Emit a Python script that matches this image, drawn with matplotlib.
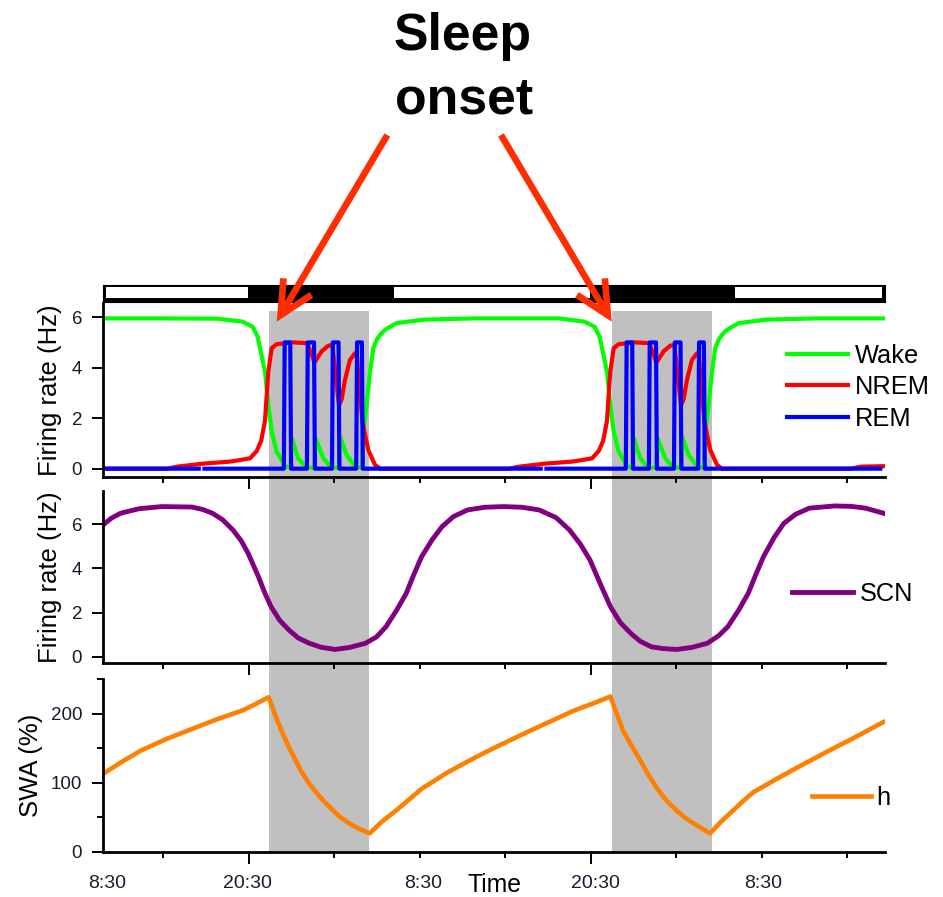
import numpy as np
import matplotlib
matplotlib.use("Agg")
import matplotlib.pyplot as plt
from matplotlib.patches import Rectangle, FancyArrowPatch
from matplotlib.transforms import blended_transform_factory

plt.rcParams['font.family'] = ['Liberation Sans', 'DejaVu Sans']

# time in hours from the left edge of the record
T_END = 54.88

# light / dark schedule and sleep bouts
light_periods = [(0.2, 10.18), (20.42, 34.18), (44.35, 54.64)]
sleep_bouts = [(11.65, 18.7), (35.7, 42.75)]

# state firing rates (Hz)
wake_t = [0.0, 4.0, 8.0, 9.8, 10.5, 10.85, 11.1, 11.37, 11.6, 11.84, 12.19, 12.65, 12.75, 13.17,
          13.25, 13.7, 14.18, 14.34, 14.84, 14.92, 15.46, 15.93, 16.1, 16.56, 16.64, 17.1, 17.68,
          17.8, 18.2, 18.27, 18.5, 18.74, 18.97, 19.2, 19.44, 19.8, 20.6, 22.5, 26.0,
          32.0, 33.8, 34.5, 34.85, 35.1, 35.37, 35.6, 35.84, 36.19, 36.65, 36.75, 37.17,
          37.25, 37.7, 38.18, 38.34, 38.84, 38.92, 39.46, 39.93, 40.1, 40.56, 40.64, 41.1, 41.68,
          41.8, 42.2, 42.27, 42.5, 42.74, 42.97, 43.2, 43.44, 43.8, 44.6, 46.5, 50.0, 54.88]
wake_v = [5.95, 5.95, 5.94, 5.82, 5.62, 5.23, 4.57, 3.84, 2.52, 1.47, 0.67, 0.23, 0.1, 0.03,
          1.2, 0.41, 0.1, 0.05, 0.03, 1.2, 0.41, 0.1, 0.05, 0.03, 1.27, 0.54, 0.1,
          0.05, 0.05, 1.47, 2.52, 3.84, 4.77, 5.1, 5.3, 5.5, 5.76, 5.9, 5.95,
          5.95, 5.82, 5.62, 5.23, 4.57, 3.84, 2.52, 1.47, 0.67, 0.23, 0.1, 0.03,
          1.2, 0.41, 0.1, 0.05, 0.03, 1.2, 0.41, 0.1, 0.05, 0.03, 1.27, 0.54, 0.1,
          0.05, 0.05, 1.47, 2.52, 3.84, 4.77, 5.1, 5.3, 5.5, 5.76, 5.9, 5.95, 5.95]

nrem_t = [0.0, 4.5, 5.2, 7.04, 8.91, 9.61, 10.32, 10.79, 11.1, 11.37, 11.6, 11.84, 12.19, 13.35,
          14.34, 14.84, 15.35, 15.81, 16.1, 16.56, 16.75, 16.98, 17.33, 17.68, 17.8, 18.2, 18.3,
          18.62, 19.09, 19.44,
          28.5, 29.2, 31.04, 32.91, 33.61, 34.32, 34.79, 35.1, 35.37, 35.6, 35.84, 36.19, 37.35,
          38.34, 38.84, 39.35, 39.81, 40.1, 40.56, 40.75, 40.98, 41.33, 41.68, 41.8, 42.2, 42.3,
          42.62, 43.09, 43.44, 52.5, 53.2, 54.88]
nrem_v = [0.0, 0.0, 0.08, 0.2, 0.28, 0.34, 0.41, 0.7, 1.1, 1.9, 3.84, 4.77, 4.93, 5.0,
          4.97, 4.2, 4.65, 4.87, 4.9, 2.5, 2.75, 3.51, 4.3, 4.57, 4.6, 1.9, 1.6,
          0.74, 0.15, 0.0,
          0.0, 0.08, 0.2, 0.28, 0.34, 0.41, 0.7, 1.1, 1.9, 3.84, 4.77, 4.93, 5.0,
          4.97, 4.2, 4.65, 4.87, 4.9, 2.5, 2.75, 3.51, 4.3, 4.57, 4.6, 1.9, 1.6,
          0.74, 0.15, 0.0, 0.0, 0.08, 0.1]

rem_t = [0.0, 6.72, 6.9, 7.12, 12.69, 12.75, 13.14, 13.2, 14.31, 14.37, 14.81, 14.87, 16.07, 16.13,
         16.53, 16.59, 17.77, 17.83, 18.17, 18.23, 30.72, 30.9, 31.12, 36.69, 36.75, 37.14, 37.2,
         38.31, 38.37, 38.81, 38.87, 40.07, 40.13, 40.53, 40.59, 41.77, 41.83, 42.17, 42.23, 54.55]
rem_v = [0, 0, np.nan, 0, 0, 5, 5, 0, 0, 5, 5, 0, 0, 5, 5, 0, 0, 5, 5, 0,
         0, np.nan, 0, 0, 5, 5, 0, 0, 5, 5, 0, 0, 5, 5, 0, 0, 5, 5, 0, 0]

# SCN firing rate (Hz)
scn_t = [0.0, 0.6, 1.24, 2.5, 4.1, 6.25, 7.0, 7.68, 8.4, 9.12, 9.7, 10.19, 10.91, 11.35, 11.79,
         12.4, 13.05, 13.7, 14.48, 15.3, 16.28, 17.3, 18.42, 19.2, 19.86, 20.6, 21.28, 21.8,
         22.36, 23.1, 23.79, 24.6, 25.59, 26.8, 28.09, 29.4, 30.6, 31.8, 32.74, 33.5, 34.18,
         34.9, 35.61, 36.3, 37.04, 37.7, 38.48, 39.3, 40.26, 41.3, 42.41, 43.2, 43.85, 44.6,
         45.28, 45.8, 46.35, 47.1, 47.78, 48.6, 49.57, 51.37, 52.5, 53.51, 54.77]
scn_v = [5.97, 6.28, 6.5, 6.7, 6.8, 6.78, 6.67, 6.5, 6.2, 5.74, 5.25, 4.68, 3.62, 2.9, 2.27,
         1.65, 1.21, 0.85, 0.61, 0.43, 0.33, 0.42, 0.61, 0.9, 1.36, 2.1, 2.87, 3.7,
         4.53, 5.3, 5.89, 6.35, 6.65, 6.77, 6.8, 6.77, 6.65, 6.3, 5.74, 5.1, 4.38,
         3.3, 2.27, 1.55, 1.06, 0.7, 0.45, 0.37, 0.33, 0.42, 0.61, 0.95, 1.36, 2.1,
         2.87, 3.7, 4.53, 5.4, 6.04, 6.45, 6.73, 6.83, 6.81, 6.73, 6.5]

# homeostatic drive h, as SWA (%)
h_t = [0.0, 1.3, 2.67, 4.4, 6.25, 8.0, 9.82, 10.7, 11.62,
       12.05, 12.51, 12.95, 13.4, 13.9, 14.48, 15.2, 15.92, 16.6, 17.35, 18.0, 18.71,
       19.6, 20.56, 21.5, 22.36, 24.1, 25.94, 27.7, 29.52, 31.3, 33.1, 34.4, 35.61,
       36.0, 36.49, 37.0, 37.58, 38.2, 38.83, 39.5, 40.26, 40.8, 41.33, 42.0, 42.6,
       43.4, 44.21, 44.9, 45.64, 47.4, 49.21, 51.0, 52.79, 54.77]
h_v = [112.9, 130, 146.8, 163, 178, 192, 205, 214, 224,
       200, 176, 156, 137, 117, 98.4, 80, 64.4, 51, 40.2, 33, 26.6,
       44, 59.6, 76, 91.1, 114, 134.7, 153, 171, 188, 205, 215, 225,
       203, 176, 157, 137, 114, 93.5, 75, 59.6, 50, 42.6, 34, 26.6,
       44, 59.6, 73, 86.3, 107, 127.5, 147, 166, 188]

tick_major = [10.22, 34.22]
tick_minor = [4.22, 16.22, 22.22, 28.22, 40.22, 46.22, 52.22]
time_label_pos = [0.31, 10.16, 22.48, 34.57, 46.35]
time_labels = ['8:30', '20:30', '8:30', '20:30', '8:30']

W, H = 943, 897
fig = plt.figure(figsize=(W / 100, H / 100), dpi=100)


def fx(px):
    return px / W


def fy(py):
    return 1 - py / H


left, width = fx(103), 782 / W
ax_bar = fig.add_axes([left, fy(302), width, 17 / H])
ax_fr = fig.add_axes([left, fy(477), width, 174 / H])
ax_scn = fig.add_axes([left, fy(662.7), width, 172 / H])
ax_swa = fig.add_axes([left, fy(851.7), width, 172.4 / H])

# light/dark bar
ax_bar.set_facecolor('black')
ax_bar.set_xlim(0, T_END)
for a, b in light_periods:
    ax_bar.axvspan(a, b, ymin=0.25, ymax=0.86, color='white', lw=0)
ax_bar.set_xticks([])
ax_bar.set_yticks([])

# sleep bouts shaded through all three panels
tr = blended_transform_factory(ax_fr.transData, fig.transFigure)
for a, b in sleep_bouts:
    fig.add_artist(Rectangle((a, fy(851.7)), b - a, fy(311) - fy(851.7), transform=tr,
                             facecolor='#c0c0c0', edgecolor='none', zorder=-1))


def style(ax, ylim, yticks):
    ax.set_facecolor('none')
    ax.set_xlim(0, T_END)
    ax.set_ylim(*ylim)
    for s in ('top', 'right'):
        ax.spines[s].set_visible(False)
    for s in ('left', 'bottom'):
        ax.spines[s].set_linewidth(2)
    ax.set_xticks(tick_major)
    ax.set_xticks(tick_minor, minor=True)
    ax.tick_params(axis='x', which='major', length=8.4, width=1.4, direction='out', labelbottom=False)
    ax.tick_params(axis='x', which='minor', length=4.1, width=1.4, direction='out')
    ax.set_yticks(yticks)
    ax.tick_params(axis='y', which='major', length=8, width=1.4, direction='out', pad=7,
                   labelsize=13.5, labelcolor='#1a1a2e')


style(ax_fr, (-0.33, 6.56), [0, 2, 4, 6])
style(ax_scn, (-0.27, 7.52), [0, 2, 4, 6])
style(ax_swa, (0, 250), [0, 100, 200])
ax_swa.set_yticks([50, 150, 250], minor=True)
ax_swa.tick_params(axis='y', which='minor', length=4.5, width=1.4, direction='out')

lw = 3.0
ax_fr.plot(wake_t, wake_v, color='#00ff00', lw=lw, label='Wake')
ax_fr.plot(nrem_t, nrem_v, color='#ff0000', lw=lw, label='NREM')
ax_fr.plot(rem_t, rem_v, color='#0000ff', lw=lw, label='REM')
ax_scn.plot(scn_t, scn_v, color='#800080', lw=3.5, label='SCN')
ax_swa.plot(h_t, h_v, color='#ff8000', lw=3.3, label='h')

leg_kw = dict(loc='center left', bbox_transform=fig.transFigure, frameon=False, fontsize=18.3,
              borderpad=0, borderaxespad=0, labelspacing=0.3)
ax_fr.legend(bbox_to_anchor=(fx(786.7), fy(387.3)), handlelength=2.4, handletextpad=0.27, **leg_kw)
ax_scn.legend(bbox_to_anchor=(fx(791.7), fy(594)), handlelength=2.4, handletextpad=0.27, **leg_kw)
ax_swa.legend(bbox_to_anchor=(fx(812), fy(797.7)), handlelength=2.34, handletextpad=0.2, **leg_kw)

ax_fr.set_ylabel('Firing rate (Hz)', fontsize=18.5)
ax_fr.yaxis.set_label_coords(-0.0518, 0.5)
ax_scn.set_ylabel('Firing rate (Hz)', fontsize=18.5)
ax_scn.yaxis.set_label_coords(-0.0518, 0.5)
ax_swa.set_ylabel('SWA (%)', fontsize=18.5)
ax_swa.yaxis.set_label_coords(-0.0763, 0.5)

# clock labels along the time axis
lab_tr = blended_transform_factory(ax_swa.transData, fig.transFigure)
for t, s in zip(time_label_pos, time_labels):
    ax_swa.text(t, fy(888), s, transform=lab_tr, ha='center', va='baseline', fontsize=14,
                color='#1a1a2e', clip_on=False)
fig.text(fx(494), fy(892), 'Time', ha='center', va='baseline', fontsize=17.8)

# sleep onset call-out
fig.text(fx(462.5), fy(50), 'Sleep', ha='center', va='baseline', fontsize=37.4, fontweight='bold')
fig.text(fx(464), fy(113.3), 'onset', ha='center', va='baseline', fontsize=37.4, fontweight='bold')
for start, tip in [((387.3, 135), (276.7, 321.7)), ((501, 135), (611.7, 321.7))]:
    arr = FancyArrowPatch((fx(start[0]), fy(start[1])), (fx(tip[0]), fy(tip[1])),
                          transform=fig.transFigure,
                          arrowstyle='->,head_length=23.9,head_width=11.7',
                          color='#ff2d00', lw=4.8, shrinkA=0, shrinkB=0,
                          joinstyle='miter', capstyle='butt', zorder=10)
    fig.add_artist(arr)

fig.savefig('out.png', dpi=100)
